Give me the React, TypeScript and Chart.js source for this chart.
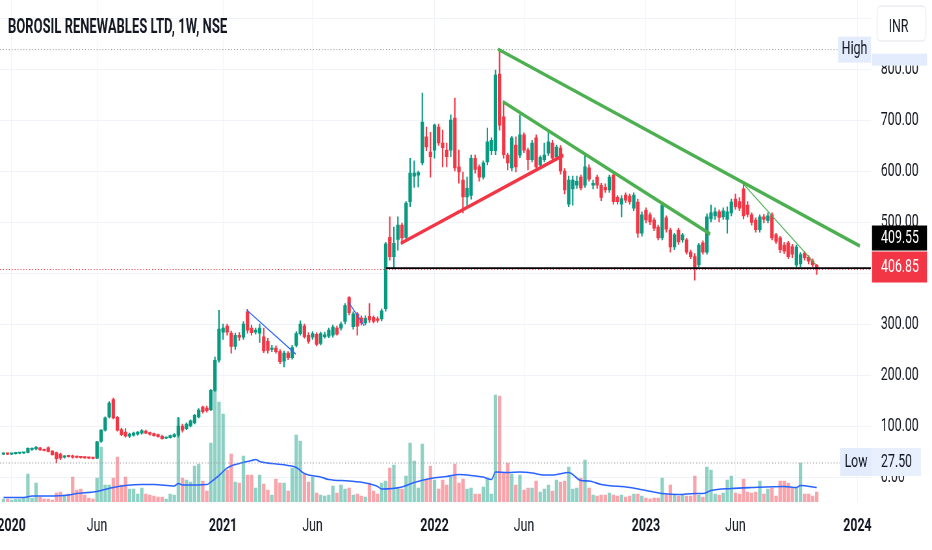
import React, { useEffect, useRef } from "react";
import { Chart, registerables } from "chart.js";

Chart.register(...registerables);

// ---------- page / geometry ----------
const PAGE_W = 932;
const PAGE_H = 550;
const VIRTUAL_W = 1434; // chart is drawn wider, then squeezed to PAGE_W (matches the narrow look of the picture)
const SX = PAGE_W / VIRTUAL_W;
const FONT = "Roboto, 'Noto Sans', sans-serif";
const TEXT = "#131722";
const GRID = "#f0f3fa";
const UP = "#089981";
const DOWN = "#f23645";
const UP_VOL = "rgba(8,153,129,0.45)";
const DOWN_VOL = "rgba(242,54,69,0.45)";

// ---------- data ----------
const TITLE = "BOROSIL RENEWABLES LTD, 1W, NSE";
const CURRENCY = "INR";
const FIRST_WEEK = "2019-12-23"; // week index 0 (weekly bars)

const OPEN = [
  45, 46, 45, 46, 46.5, 47, 48, 54, 55, 57,
  54, 57, 51, 48, 45, 39, 41, 40, 39, 38.5,
  38, 37.5, 37, 37, 70, 92, 118, 152, 117, 93,
  88, 80, 82, 84, 86, 90, 87, 85, 83, 80,
  76, 77, 79, 82, 100, 95, 100, 106, 118, 137,
  135, 132, 170, 229, 284, 296, 282, 256, 278, 274,
  324, 292, 284, 282, 275, 266, 250, 253, 246, 227,
  243, 234, 258, 281, 296, 278, 274, 280, 262, 275,
  276, 278, 292, 292, 305, 352, 295, 320, 312, 302,
  315, 313, 310, 310, 330, 470, 432, 466, 494, 470,
  540, 590, 592, 616, 667, 637, 641, 686, 655, 641,
  641, 704, 608, 582, 549, 552, 625, 608, 588, 618,
  640, 640, 790, 706, 631, 606, 651, 631, 671, 641,
  622, 665, 612, 622, 635, 655, 627, 645, 600, 535,
  565, 572, 588, 572, 606, 572, 588, 572, 568, 563,
  592, 549, 535, 553, 551, 527, 539, 478, 523, 514,
  504, 490, 469, 508, 484, 451, 484, 465, 465, 441,
  432, 416, 459, 441, 506, 512, 520, 510, 505, 518,
  545, 540, 565, 533, 514, 504, 485, 510, 503, 514,
  475, 469, 455, 459, 452, 416, 418, 439, 431, 424,
  415,
];
const HIGH = [
  47, 47, 46.5, 47, 48, 48, 57, 57, 60, 58,
  55, 59, 52, 49, 47, 42, 42, 43, 41, 40,
  39, 38.5, 38, 70, 93, 118, 148, 155, 119, 96,
  95, 86, 88, 89, 93, 92, 88, 86, 84, 82,
  79, 82, 85, 117, 104, 106, 112, 123, 134, 139,
  139, 172, 235, 327, 300, 300, 286, 282, 283, 305,
  329, 298, 292, 300, 292, 272, 258, 257, 250, 247,
  246, 258, 285, 306, 300, 283, 285, 283, 284, 284,
  292, 298, 296, 304, 340, 354, 324, 323, 316, 316,
  340, 316, 314, 330, 460, 510, 490, 510, 498, 540,
  625, 620, 600, 753, 686, 676, 692, 692, 680, 655,
  710, 743, 641, 598, 588, 631, 631, 612, 620, 684,
  665, 798, 838, 736, 635, 668, 667, 710, 675, 645,
  660, 671, 630, 655, 680, 660, 651, 650, 605, 590,
  590, 590, 592, 631, 612, 582, 592, 576, 575, 592,
  596, 552, 552, 557, 555, 557, 545, 520, 528, 518,
  508, 494, 537, 512, 488, 478, 488, 478, 468, 445,
  438, 458, 463, 516, 533, 528, 524, 528, 530, 545,
  555, 548, 576, 540, 518, 508, 514, 515, 518, 518,
  478, 472, 460, 462, 456, 455, 440, 442, 434, 428,
  417,
];
const LOW = [
  44, 44, 44, 45, 45.5, 46, 47, 52, 53, 52,
  51, 49, 43, 27.5, 34, 37, 39, 37, 37.5, 37,
  36.5, 36, 35.5, 36, 68, 90, 116, 114, 90, 81,
  78, 77, 80, 82, 84, 85, 82, 80, 78, 74,
  75, 76, 78, 78, 88, 93, 98, 104, 116, 125,
  127, 130, 168, 225, 270, 278, 243, 250, 268, 270,
  282, 278, 280, 264, 244, 243, 246, 243, 222, 216,
  230, 231, 255, 278, 272, 262, 270, 257, 259, 272,
  273, 274, 278, 288, 300, 318, 290, 278, 298, 298,
  303, 302, 303, 306, 325, 425, 409.5, 445, 458, 466,
  530, 568, 569, 612, 640, 588, 625, 650, 608, 608,
  628, 600, 576, 518, 529, 545, 596, 580, 584, 612,
  632, 632, 680, 625, 602, 600, 598, 626, 636, 602,
  618, 604, 608, 618, 630, 620, 622, 594, 555, 530,
  533, 566, 563, 568, 580, 565, 566, 542, 558, 558,
  535, 535, 510, 538, 535, 522, 470, 472, 498, 495,
  483, 465, 465, 480, 441, 446, 456, 460, 437, 428,
  386, 412, 437, 437, 500, 505, 500, 505, 478, 512,
  525, 522, 506, 510, 494, 480, 480, 498, 498, 465,
  458, 440, 438, 428, 430, 412, 412, 425, 418, 412,
  397,
];
const CLOSE = [
  46, 45, 46, 46.5, 47, 47.5, 56, 55, 58, 53,
  52, 50, 44, 36, 37, 41, 40, 39, 38.5, 38,
  37.5, 37, 36.5, 69, 92, 116, 145, 116, 92, 83,
  80, 84, 86, 88, 91, 86, 84, 81, 79, 75,
  77, 81, 83, 100, 92, 104, 110, 121, 131, 128,
  130, 170, 229, 290, 292, 284, 256, 278, 274, 300,
  288, 283, 288, 292, 247, 248, 253, 246, 226, 243,
  234, 254, 281, 300, 275, 266, 281, 260, 281, 279,
  288, 294, 280, 300, 336, 322, 320, 296, 302, 311,
  308, 305, 307, 326, 457, 432, 458, 494, 469, 537,
  596, 596, 597, 696, 647, 628, 690, 655, 646, 628,
  700, 606, 598, 549, 566, 625, 603, 588, 616, 657,
  660, 788, 690, 632, 616, 665, 608, 671, 641, 622,
  655, 608, 627, 631, 657, 625, 647, 600, 563, 582,
  582, 580, 567, 608, 584, 576, 572, 548, 563, 588,
  540, 540, 546, 543, 540, 553, 478, 514, 504, 500,
  488, 469, 533, 486, 451, 475, 461, 475, 441, 432,
  412, 455, 441, 510, 518, 520, 509, 522, 520, 539,
  530, 527, 512, 515, 499, 485, 510, 505, 512, 469,
  462, 446, 443, 432, 437, 451, 436, 430, 423, 416,
  406.85,
];
// weekly volume, millions of shares
const VOLUME = [
  0.6, 0.6, 0.4, 0.6, 0.6, 0.8, 5.6, 0.8, 3.8, 1.0,
  0.6, 0.6, 0.4, 1.8, 2.0, 1.4, 1.6, 5.0, 2.4, 2.6,
  1.4, 0.8, 0.6, 4.8, 11.0, 3.4, 3.4, 4.8, 9.0, 3.4,
  5.0, 2.6, 2.6, 1.6, 2.8, 1.6, 1.4, 1.2, 1.0, 1.0,
  0.6, 1.6, 1.4, 16.8, 4.8, 4.4, 4.0, 7.2, 7.6, 4.2,
  2.2, 11.8, 22.4, 20.0, 17.6, 6.4, 9.6, 4.0, 3.8, 9.2,
  5.4, 5.4, 2.8, 5.4, 3.6, 2.4, 1.4, 4.6, 3.8, 3.8,
  2.2, 6.8, 13.4, 12.2, 5.6, 4.0, 5.0, 1.8, 1.4, 1.2,
  1.4, 3.2, 1.8, 3.4, 2.6, 2.8, 1.4, 1.6, 1.2, 1.0,
  3.8, 2.2, 1.6, 3.8, 4.2, 6.8, 7.4, 2.6, 2.6, 5.2,
  11.8, 8.2, 2.8, 11.6, 4.6, 7.2, 4.4, 2.6, 4.4, 3.4,
  5.0, 7.6, 3.8, 4.6, 2.6, 2.8, 1.6, 1.6, 3.0, 4.8,
  1.6, 21.4, 21.2, 5.8, 7.8, 5.6, 3.4, 5.4, 2.4, 2.8,
  2.8, 4.2, 2.0, 2.6, 3.4, 2.2, 4.4, 4.0, 4.2, 7.0,
  2.6, 2.8, 4.8, 8.4, 2.8, 1.4, 1.2, 1.4, 1.4, 1.8,
  1.4, 1.2, 1.4, 1.0, 1.2, 1.6, 1.6, 1.2, 0.8, 0.6,
  0.8, 0.8, 4.8, 1.4, 3.4, 1.4, 1.2, 1.4, 1.2, 1.2,
  5.2, 1.4, 1.0, 7.0, 6.4, 1.6, 1.4, 1.8, 4.4, 5.2,
  1.8, 1.6, 4.6, 2.0, 1.8, 2.0, 4.2, 1.6, 2.6, 2.8,
  1.2, 4.2, 4.2, 3.8, 2.8, 2.8, 7.8, 1.6, 1.6, 1.2,
  2.0,
];
// volume moving average (week index, millions)
const VOL_MA_WEEK = [
  0, 5, 7, 11, 16, 18, 22, 24, 27, 30, 34, 37, 42, 43, 44, 50, 51, 53, 55, 58,
  61, 62, 63, 66, 70, 72, 74, 78, 80, 85, 89, 92, 93, 98, 101, 105, 109, 112, 116, 118,
  120, 121, 124, 127, 130, 133, 135, 139, 142, 144, 147, 154, 158, 162, 166, 170, 172, 174, 179, 184,
  192, 195, 196, 200,
];
const VOL_MA_VALUE = [
  0.9, 0.9, 1.2, 1.2, 1.4, 1.7, 2.0, 2.3, 2.9, 3.3, 3.5, 3.5, 3.2, 3.7, 3.4, 3.5, 4.0, 5.3, 6.8, 7.7,
  8.3, 8.5, 8.1, 7.7, 7.3, 6.9, 5.7, 5.0, 4.5, 4.2, 3.8, 3.1, 2.6, 3.0, 3.9, 4.7, 5.1, 5.5, 5.2, 5.0,
  4.5, 6.0, 5.9, 6.0, 5.8, 5.4, 5.4, 5.9, 4.3, 4.2, 3.5, 2.9, 2.3, 1.7, 1.5, 1.7, 1.7, 2.3, 2.7, 2.9,
  3.1, 2.9, 3.3, 2.9,
];

const TICK_WEEKS = [2, 23, 54, 76, 106, 128, 158, 180, 210];
const TICK_LABELS = ["2020", "Jun", "2021", "Jun", "2022", "Jun", "2023", "Jun", "2024"];
const PRICE_TICKS = [0, 100, 200, 300, 400, 500, 600, 700, 800, 900];

const HIGH_PRICE = 838;
const LOW_PRICE = 27.5;
const LAST_PRICE = 406.85;
const LEVEL_PRICE = 409.55;
const LEVEL_START_WEEK = 94.1;

// drawn trend lines: [week index, price]
const GREEN_TOP_LINE = [[121.6, 839], [210.6, 453]];
const GREEN_MID_LINE = [[122.8, 736], [173.8, 476.5]];
const RED_SUPPORT_LINE = [[97.7, 458], [137.7, 631]];
const GREEN_THIN_LINE = [[181.8, 576], [199.8, 416]];
const BLUE_LINE_1 = [[59.8, 327.5], [71.9, 241]];
const BLUE_LINE_2 = [[84.9, 342], [88.7, 296.7]];

// axis ranges
const X_MIN = -0.86;
const X_MAX = 213.35;
const PRICE_MIN = -49;
const PRICE_MAX = 935.3;
const VOL_MAX = 100.4;

const PLOT_RIGHT_PX = 871; // in page pixels
const PLOT_BOTTOM_PX = 502;

const pts = (arr: number[][]) => arr.map(([x, y]) => ({ x, y }));

function roundRect(ctx: CanvasRenderingContext2D, x: number, y: number, w: number, h: number, r: number) {
  ctx.beginPath();
  ctx.moveTo(x + r, y);
  ctx.lineTo(x + w - r, y);
  ctx.quadraticCurveTo(x + w, y, x + w, y + r);
  ctx.lineTo(x + w, y + h - r);
  ctx.quadraticCurveTo(x + w, y + h, x + w - r, y + h);
  ctx.lineTo(x + r, y + h);
  ctx.quadraticCurveTo(x, y + h, x, y + h - r);
  ctx.lineTo(x, y + r);
  ctx.quadraticCurveTo(x, y, x + r, y);
  ctx.closePath();
}

const decorPlugin = {
  id: "decor",
  afterDraw(chart: any) {
    const ctx: CanvasRenderingContext2D = chart.ctx;
    const X = (px: number) => px / SX;
    const yS = chart.scales.y;
    ctx.save();

    // title
    ctx.font = `bold 20px ${FONT}`;
    ctx.fillStyle = TEXT;
    ctx.textAlign = "left";
    ctx.textBaseline = "alphabetic";
    ctx.fillText(TITLE, X(8), 33);

    const label = (txt: string, x: number, yc: number, color: string, align: CanvasTextAlign = "left") => {
      ctx.font = `19px ${FONT}`;
      ctx.fillStyle = color;
      ctx.textAlign = align;
      ctx.textBaseline = "middle";
      ctx.fillText(txt, x, yc);
    };

    // High marker
    const yHigh = yS.getPixelForValue(HIGH_PRICE);
    ctx.fillStyle = "#e3ecfc";
    ctx.fillRect(X(838), yHigh - 13, X(871) - X(838), 26);
    label("High", (X(838) + X(871)) / 2, yHigh, TEXT, "center");
    ctx.fillStyle = "#e3ecfc";
    ctx.fillRect(X(872), yHigh + 4, X(927) - X(872), 12);

    // Low marker
    const yLow = yS.getPixelForValue(LOW_PRICE);
    ctx.fillStyle = "#e3ecfc";
    ctx.fillRect(X(840), yLow - 15, X(872) - X(840), 28);
    label("Low", (X(840) + X(872)) / 2, yLow - 1, TEXT, "center");
    ctx.fillStyle = "#e8f0fd";
    ctx.fillRect(X(872), yLow - 15, X(921) - X(872), 28);
    label(LOW_PRICE.toFixed(2), X(881), yLow - 1, TEXT);

    // last price & level price labels
    const yLast = yS.getPixelForValue(LAST_PRICE) - 3;
    ctx.fillStyle = DOWN;
    ctx.fillRect(X(872), yLast - 15, X(927) - X(872), 31);
    label(LAST_PRICE.toFixed(2), X(881), yLast + 1, "#ffffff");
    ctx.fillStyle = "#000000";
    ctx.fillRect(X(872), yLast - 41, X(927) - X(872), 25);
    label(LEVEL_PRICE.toFixed(2), X(881), yLast - 28, "#ffffff");

    // currency button
    roundRect(ctx, X(877), 6, X(926) - X(877), 35, 4 / SX);
    ctx.fillStyle = "#ffffff";
    ctx.fill();
    ctx.lineWidth = 1;
    ctx.strokeStyle = "#e0e3eb";
    ctx.stroke();
    label(CURRENCY, (X(877) + X(926)) / 2 - X(3), 27, TEXT, "center");

    ctx.restore();
  },
};

export default function App() {
  const canvasRef = useRef<HTMLCanvasElement | null>(null);

  useEffect(() => {
    const canvas = canvasRef.current;
    if (!canvas) return;

    const n = CLOSE.length;
    const idx = Array.from({ length: n }, (_, i) => i);
    const isUp = idx.map((i) => CLOSE[i] >= OPEN[i]);
    const candleColor = idx.map((i) => (isUp[i] ? UP : DOWN));
    const volColor = idx.map((i) => (isUp[i] ? UP_VOL : DOWN_VOL));

    const trend = (data: number[][], color: string, width: number, dash: number[] = [], order = 0) => ({
      type: "line" as const,
      data: pts(data),
      yAxisID: "y",
      borderColor: color,
      borderWidth: width,
      borderDash: dash,
      pointRadius: 0,
      tension: 0,
      order,
    });

    const chart = new Chart(canvas, {
      type: "bar",
      data: {
        datasets: [
          trend(GREEN_TOP_LINE, "#4caf50", 3.6),
          trend(GREEN_MID_LINE, "#4caf50", 3.6),
          trend(RED_SUPPORT_LINE, "#f23645", 3.6),
          trend(GREEN_THIN_LINE, "#4caf50", 1.2),
          trend(BLUE_LINE_1, "#2962ff", 1.3),
          trend(BLUE_LINE_2, "#2962ff", 1.3),
          trend([[LEVEL_START_WEEK, LEVEL_PRICE], [X_MAX, LEVEL_PRICE]], "#000000", 1.6, [], 1),
          trend([[X_MIN, LAST_PRICE], [X_MAX, LAST_PRICE]], "#f23645", 1, [1.5, 3], 1),
          trend([[X_MIN, HIGH_PRICE], [205.2, HIGH_PRICE]], "#9598a1", 1, [1.5, 3], 1),
          trend([[X_MIN, LOW_PRICE], [205.7, LOW_PRICE]], "#9598a1", 1, [1.5, 3], 1),
          {
            type: "bar",
            data: idx.map((i) => ({ x: i, y: [OPEN[i], CLOSE[i]] })),
            yAxisID: "y",
            backgroundColor: candleColor,
            borderWidth: 0,
            grouped: false,
            barThickness: 4.6,
            maxBarThickness: 4.6,
            minBarLength: 1.2,
            order: 2,
          } as any,
          {
            type: "bar",
            data: idx.map((i) => ({ x: i, y: [LOW[i], HIGH[i]] })),
            yAxisID: "y",
            backgroundColor: candleColor,
            borderWidth: 0,
            grouped: false,
            barThickness: 1.5,
            maxBarThickness: 1.5,
            order: 3,
          } as any,
          {
            type: "line",
            data: VOL_MA_WEEK.map((w, k) => ({ x: w, y: VOL_MA_VALUE[k] })),
            yAxisID: "yv",
            borderColor: "#2962ff",
            borderWidth: 1.6,
            pointRadius: 0,
            cubicInterpolationMode: "monotone",
            order: 4,
          } as any,
          {
            type: "bar",
            data: idx.map((i) => ({ x: i, y: VOLUME[i] })),
            yAxisID: "yv",
            backgroundColor: volColor,
            borderWidth: 0,
            grouped: false,
            barThickness: 4.6,
            maxBarThickness: 4.6,
            order: 5,
          } as any,
        ],
      },
      options: {
        responsive: false,
        maintainAspectRatio: false,
        animation: false,
        events: [],
        layout: { padding: 0 },
        plugins: {
          legend: { display: false },
          tooltip: { enabled: false },
          title: { display: false },
        },
        scales: {
          x: {
            type: "linear",
            min: X_MIN,
            max: X_MAX,
            bounds: "data",
            offset: false,
            grid: { color: GRID, drawTicks: false, offset: false },
            border: { display: false },
            ticks: {
              autoSkip: false,
              maxRotation: 0,
              minRotation: 0,
              padding: 13,
              color: TEXT,
              font: (c: any) => ({
                family: FONT,
                size: 19,
                weight: /^\d{4}$/.test(TICK_LABELS[c.index] || "") ? "bold" : "normal",
              }),
              callback: (_v: any, i: number) => TICK_LABELS[i] ?? "",
            },
            afterBuildTicks: (s: any) => {
              s.ticks = TICK_WEEKS.map((v) => ({ value: v }));
            },
            afterFit: (s: any) => {
              s.height = PAGE_H - PLOT_BOTTOM_PX;
              s.paddingLeft = 0;
              s.paddingRight = 0;
            },
          },
          y: {
            type: "linear",
            position: "right",
            min: PRICE_MIN,
            max: PRICE_MAX,
            bounds: "data",
            grid: { color: GRID, drawTicks: false },
            border: { display: false },
            ticks: {
              autoSkip: false,
              padding: 15,
              color: TEXT,
              font: { family: FONT, size: 19 },
              callback: (v: any) => Number(v).toFixed(2),
            },
            afterBuildTicks: (s: any) => {
              s.ticks = PRICE_TICKS.map((v) => ({ value: v }));
            },
            afterFit: (s: any) => {
              s.width = (PAGE_W - PLOT_RIGHT_PX) / SX;
              s.paddingTop = 0;
              s.paddingBottom = 0;
            },
          },
          yv: {
            type: "linear",
            display: false,
            min: 0,
            max: VOL_MAX,
            bounds: "data",
          },
        },
      } as any,
      plugins: [decorPlugin],
    });

    return () => chart.destroy();
  }, []);

  return (
    <div
      style={{
        position: "absolute",
        left: 0,
        top: 0,
        width: PAGE_W,
        height: PAGE_H,
        background: "#ffffff",
        overflow: "hidden",
      }}
    >
      <canvas
        ref={canvasRef}
        width={VIRTUAL_W}
        height={PAGE_H}
        data-first-week={FIRST_WEEK}
        style={{ width: `${PAGE_W}px`, height: `${PAGE_H}px`, display: "block" }}
      />
    </div>
  );
}
